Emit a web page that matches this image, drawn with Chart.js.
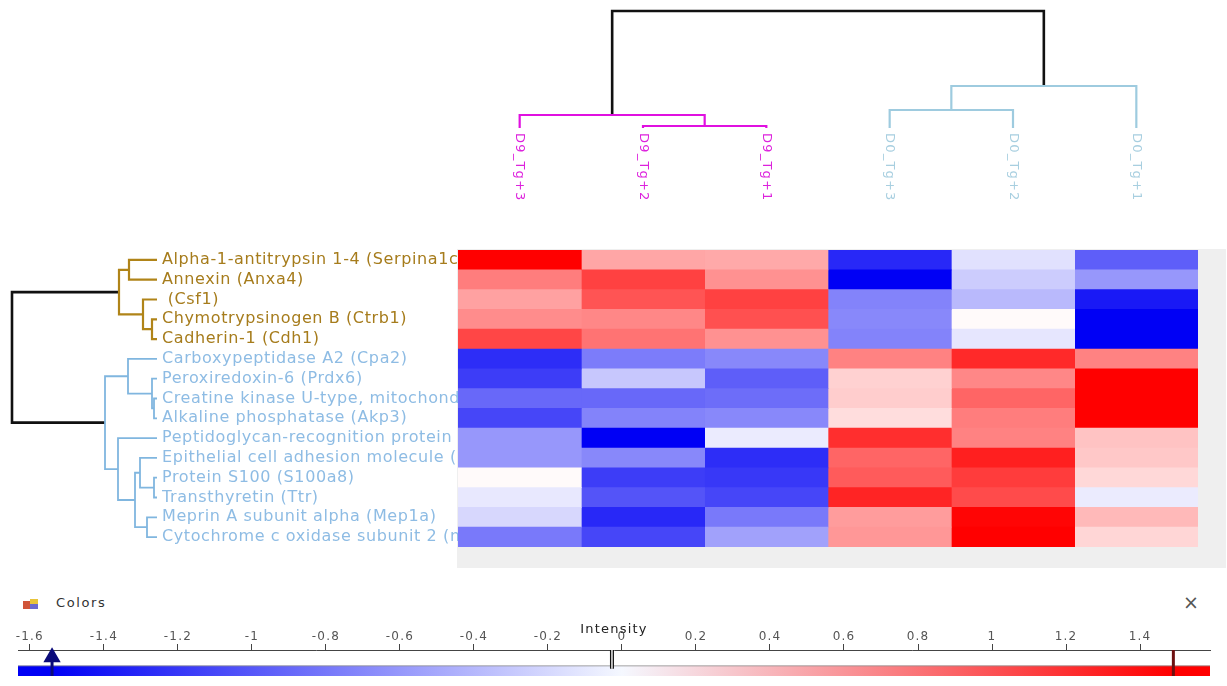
<!DOCTYPE html>
<html>
<head>
<meta charset="utf-8">
<script src="https://cdn.jsdelivr.net/npm/chart.js@4.4.1/dist/chart.umd.min.js"></script>
<style>
  html, body { margin: 0; padding: 0; background: #ffffff; }
  #stage { position: relative; width: 1227px; height: 686px; overflow: hidden; font-family: "DejaVu Sans", sans-serif; }
  canvas { position: absolute; left: 0; }
  #panel { position: absolute; left: 457px; top: 249px; width: 769px; height: 319px; background: #efefef; }
  #colorsHead { position: absolute; left: 56px; top: 595px; font-size: 13px; letter-spacing: 1.6px; color: #333; }
  #closeX { position: absolute; left: 1183px; top: 591px; font-size: 19px; color: #555; }
  #paletteIcon { position: absolute; left: 23px; top: 599px; width: 15px; height: 10px; }
  #paletteIcon div { position: absolute; }
</style>
</head>
<body>
<div id="stage">
  <div id="panel"></div>
  <canvas id="colDendro" width="1227" height="240" style="top:0"></canvas>
  <canvas id="heat" width="1227" height="335" style="top:240px"></canvas>
  <canvas id="rowDendro" width="1227" height="335" style="top:240px"></canvas>
  <div id="paletteIcon">
    <div style="left:0;top:2px;width:7px;height:8px;background:#d0553a"></div>
    <div style="left:7px;top:0;width:8px;height:5px;background:#e8c43a"></div>
    <div style="left:7px;top:5px;width:8px;height:5px;background:#6a6ad0"></div>
  </div>
  <div id="colorsHead">Colors</div>
  <div id="closeX">×</div>
  <canvas id="colorBar" width="1227" height="76" style="top:610px"></canvas>
</div>
<script>
// ---- samples (heatmap columns, in dendrogram leaf order) ----
const columns = ['D9_Tg+3', 'D9_Tg+2', 'D9_Tg+1', 'D0_Tg+3', 'D0_Tg+2', 'D0_Tg+1'];
const columnGroup = [0, 0, 0, 1, 1, 1];

// ---- proteins (heatmap rows, in dendrogram leaf order) ----
const proteins = [
  'Alpha-1-antitrypsin 1-4 (Serpina1c)',
  'Annexin (Anxa4)',
  ' (Csf1)',
  'Chymotrypsinogen B (Ctrb1)',
  'Cadherin-1 (Cdh1)',
  'Carboxypeptidase A2 (Cpa2)',
  'Peroxiredoxin-6 (Prdx6)',
  'Creatine kinase U-type, mitochondrial (Ckmt1)',
  'Alkaline phosphatase (Akp3)',
  'Peptidoglycan-recognition protein 1 (Pglyrp1)',
  'Epithelial cell adhesion molecule (Epcam)',
  'Protein S100 (S100a8)',
  'Transthyretin (Ttr)',
  'Meprin A subunit alpha (Mep1a)',
  'Cytochrome c oxidase subunit 2 (mt-Co2)'
];
const proteinGroup = [0, 0, 0, 0, 0, 1, 1, 1, 1, 1, 1, 1, 1, 1, 1];

// ---- intensities, one array per sample ----
const d9Tg3 = [1.49, 0.76, 0.55, 0.67, 1.08, -1.27, -1.17, -0.91, -1.12, -0.63, -0.63, 0.03, -0.14, -0.24, -0.81];
const d9Tg2 = [0.52, 1.11, 1.00, 0.70, 0.82, -0.79, -0.34, -0.91, -0.75, -1.54, -0.72, -1.17, -1.03, -1.30, -1.12];
const d9Tg1 = [0.50, 0.64, 1.11, 1.02, 0.64, -0.72, -0.97, -0.88, -0.72, -0.12, -1.27, -1.20, -1.12, -0.81, -0.57];
const d0Tg3 = [-1.30, -1.54, -0.75, -0.72, -0.75, 0.73, 0.27, 0.29, 0.20, 1.22, 0.90, 0.96, 1.28, 0.58, 0.61];
const d0Tg2 = [-0.18, -0.31, -0.42, 0.03, -0.15, 1.25, 0.70, 0.90, 0.76, 0.73, 1.31, 1.14, 1.05, 1.46, 1.49];
const d0Tg1 = [-0.97, -0.63, -1.39, -1.54, -1.54, 0.73, 1.49, 1.49, 1.49, 0.35, 0.32, 0.23, -0.12, 0.41, 0.24];
const sampleValues = [d9Tg3, d9Tg2, d9Tg1, d0Tg3, d0Tg2, d0Tg1];

// ---- hierarchical clustering: [childA, childB, height]; ids >= leaf count are earlier merges ----
const rowLinkage = [
  [0, 1, 28],    // 15
  [3, 4, 5],     // 16
  [2, 16, 14],   // 17
  [15, 17, 38],  // 18
  [7, 8, 3],     // 19
  [6, 19, 5],    // 20
  [5, 20, 29],   // 21
  [11, 12, 3],   // 22
  [10, 22, 17],  // 23
  [13, 14, 10],  // 24
  [23, 24, 22],  // 25
  [9, 25, 39],   // 26
  [21, 26, 52],  // 27
  [18, 27, 145]  // 28
];
const colLinkage = [
  [1, 2, 2],     // 6
  [0, 6, 13],    // 7
  [3, 4, 18],    // 8
  [8, 5, 42],    // 9
  [7, 9, 117]    // 10
];

// ---- colour scale ----
const intensityMin = -1.54;
const intensityMax = 1.49;
const midMarker = -0.027;
const axisMin = -1.632;
const axisMax = 1.589;

const rowPalette = ['#b08418', '#80b6df'];
const rowTextPalette = ['#a67c1c', '#8ebce4'];
const colPalette = ['#e010e0', '#9ecbdf'];
const colTextPalette = ['#dd22dd', '#a8cfe0'];

Chart.defaults.font.family = "'DejaVu Sans', sans-serif";
Chart.defaults.animation = false;
Chart.defaults.responsive = false;
Chart.defaults.events = [];
Chart.defaults.plugins.legend.display = false;
Chart.defaults.plugins.tooltip.enabled = false;

function intensityColor(v) {
  if (v >= 0) {
    const t = Math.min(v / intensityMax, 1);
    const g = Math.round(255 * (1 - t));
    return `rgb(255,${g},${g})`;
  }
  const t = Math.min(v / intensityMin, 1);
  const g = Math.round(255 * (1 - t));
  return `rgb(${g},${g},${Math.round(255 - 10 * t)})`;
}

const letterSpacingPlugin = {
  id: 'letterSpacing',
  beforeDraw(chart, args, opts) { chart.ctx.letterSpacing = (opts.px || 0) + 'px'; }
};

// Build elbow polylines for each merge of a linkage table
function dendrogramLines(linkage, leafGroups, palette, rootColor, orient) {
  const n = leafGroups.length;
  const pos = leafGroups.map((_, i) => i);
  const height = leafGroups.map(() => 0);
  const group = leafGroups.slice();
  const lines = [];
  linkage.forEach(([a, b, h]) => {
    const p = (pos[a] + pos[b]) / 2;
    const g = group[a] === group[b] ? group[a] : -1;
    pos.push(p); height.push(h); group.push(g);
    const pts = [[height[a], pos[a]], [h, pos[a]], [h, pos[b]], [height[b], pos[b]]];
    const isRoot = g === -1;
    lines.push({
      data: pts.map(([d, q]) => orient === 'row' ? { x: d, y: q } : { x: q, y: d }),
      showLine: true,
      borderColor: isRoot ? rootColor : palette[g],
      borderWidth: isRoot ? 2.6 : (orient === 'row' && g === 1 ? 1.8 : 2.2),
      pointRadius: 0,
      tension: 0,
      clip: false,
      borderCapStyle: 'butt',
      borderJoinStyle: 'miter'
    });
  });
  return lines;
}

// ---- heatmap ----
new Chart(document.getElementById('heat'), {
  type: 'bar',
  data: {
    labels: proteins,
    datasets: sampleValues.map((vals, c) => ({
      label: columns[c],
      data: vals.map(() => [c - 0.5, c + 0.5]),
      backgroundColor: vals.map(intensityColor),
      borderWidth: 0,
      barPercentage: 1,
      categoryPercentage: 1,
      grouped: false
    }))
  },
  options: {
    indexAxis: 'y',
    layout: { padding: { left: 162, right: 29, top: 10, bottom: 28 } },
    plugins: { letterSpacing: { px: 0.6 } },
    scales: {
      x: { type: 'linear', min: -0.5, max: 5.5, display: false },
      y: {
        grid: { display: false },
        border: { display: false },
        ticks: {
          crossAlign: 'far',
          autoSkip: false,
          padding: 0,
          font: { size: 16 },
          color: (ctx) => rowTextPalette[proteinGroup[ctx.index]]
        },
        afterFit(scale) { scale.width = 296; }
      }
    }
  },
  plugins: [letterSpacingPlugin]
});

// ---- protein dendrogram ----
new Chart(document.getElementById('rowDendro'), {
  type: 'scatter',
  data: { datasets: dendrogramLines(rowLinkage, proteinGroup, rowPalette, '#111111', 'row') },
  options: {
    layout: { padding: { left: 12, right: 1070, top: 10, bottom: 28 } },
    scales: {
      x: { type: 'linear', min: 0, max: 145, reverse: true, display: false },
      y: { type: 'linear', min: -0.5, max: 14.5, reverse: true, display: false }
    }
  }
});

// ---- sample dendrogram with rotated sample names ----
const columnLabelPlugin = {
  id: 'columnLabels',
  afterDatasetsDraw(chart) {
    const { ctx, chartArea } = chart;
    const x = chart.scales.x;
    ctx.save();
    ctx.font = "13px 'DejaVu Sans'";
    ctx.letterSpacing = '1.2px';
    ctx.textAlign = 'left';
    ctx.textBaseline = 'middle';
    columns.forEach((name, i) => {
      ctx.save();
      ctx.translate(x.getPixelForValue(i), chartArea.bottom + 5);
      ctx.rotate(Math.PI / 2);
      ctx.fillStyle = colTextPalette[columnGroup[i]];
      ctx.fillText(name, 0, 0);
      ctx.restore();
    });
    ctx.restore();
  }
};

new Chart(document.getElementById('colDendro'), {
  type: 'scatter',
  data: { datasets: dendrogramLines(colLinkage, columnGroup, colPalette, '#111111', 'col') },
  options: {
    layout: { padding: { left: 458, right: 29, top: 11, bottom: 112 } },
    scales: {
      x: { type: 'linear', min: -0.5, max: 5.5, display: false },
      y: { type: 'linear', min: 0, max: 117, display: false }
    }
  },
  plugins: [columnLabelPlugin]
});

// ---- intensity colour bar ----
const barTop = 0.39;
new Chart(document.getElementById('colorBar'), {
  type: 'scatter',
  data: {
    datasets: [
      { // inner gap of the double midpoint line
        data: [{ x: midMarker, y: 0.28 }, { x: midMarker, y: 1 }],
        showLine: true, borderColor: '#ffffff', borderWidth: 1.4, pointRadius: 0, clip: false
      },
      {
        data: [{ x: midMarker, y: 0.28 }, { x: midMarker, y: 1 }],
        showLine: true, borderColor: '#111111', borderWidth: 4, pointRadius: 0, clip: false
      },
      {
        data: [{ x: intensityMin, y: 0 }, { x: intensityMin, y: 0.72 }],
        showLine: true, borderColor: '#0b0b7a', borderWidth: 3,
        pointRadius: [0, 7], pointStyle: 'triangle',
        pointBackgroundColor: '#0b0b7a', pointBorderColor: '#0b0b7a', clip: false
      },
      {
        data: [{ x: intensityMax, y: 0 }, { x: intensityMax, y: 1 }],
        showLine: true, borderColor: '#6e1010', borderWidth: 3, pointRadius: 0, clip: false
      },
      {
        data: [{ x: axisMin, y: barTop }, { x: axisMax, y: barTop }],
        showLine: true, pointRadius: 0,
        borderColor: 'rgba(140,140,140,0.8)', borderWidth: 1,
        fill: 'start',
        backgroundColor(ctx) {
          const chart = ctx.chart;
          const xs = chart.scales.x;
          if (!chart.chartArea || !xs) return 'rgba(0,0,0,0)';
          const x0 = xs.getPixelForValue(axisMin);
          const x1 = xs.getPixelForValue(axisMax);
          const stop = (v) => (xs.getPixelForValue(v) - x0) / (x1 - x0);
          const g = chart.ctx.createLinearGradient(x0, 0, x1, 0);
          g.addColorStop(0, 'rgb(0,0,245)');
          g.addColorStop(stop(intensityMin), 'rgb(0,0,245)');
          g.addColorStop(stop(0), 'rgb(245,248,255)');
          g.addColorStop(stop(intensityMax), 'rgb(255,0,0)');
          g.addColorStop(1, 'rgb(255,0,0)');
          return g;
        }
      }
    ]
  },
  options: {
    layout: { padding: { left: 18, right: 17, top: 12, bottom: 0 } },
    plugins: { letterSpacing: { px: 1.2 } },
    scales: {
      x: {
        type: 'linear', position: 'top', min: axisMin, max: axisMax,
        ticks: {
          stepSize: 0.2, includeBounds: false, maxRotation: 0, autoSkip: false,
          padding: 0, color: '#555', font: { size: 12 },
          callback: (v) => String(Math.round(v * 10) / 10)
        },
        grid: { drawOnChartArea: false, drawTicks: true, tickLength: 6, color: '#444' },
        border: { color: '#444', width: 1 },
        title: { display: true, text: 'Intensity', padding: 0, color: '#222', font: { size: 13 } },
        afterFit(scale) { scale.height = 28; }
      },
      y: { type: 'linear', min: 0, max: 1, display: false }
    }
  },
  plugins: [letterSpacingPlugin]
});
</script>
</body>
</html>
